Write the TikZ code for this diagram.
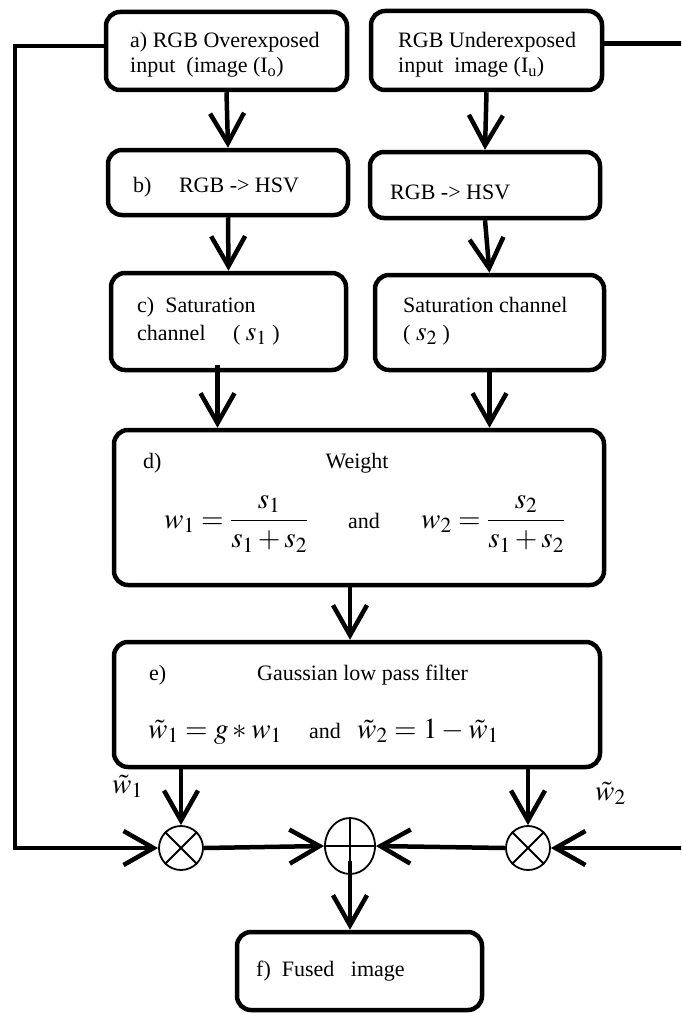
\documentclass[tikz,border=0pt]{standalone}
\usepackage{mathptmx}
\usepackage[no-math]{fontspec}
\setmainfont{Liberation Serif}
\usetikzlibrary{arrows.meta,positioning,shapes.geometric,calc}
\tikzset{
  stagebox/.style={draw, rounded corners=14pt, line width=4.5pt, fill=white, inner sep=0pt},
  stagetext/.style={anchor=base west, inner sep=0pt, align=left,
    font=\fontsize{22}{25}\selectfont},
  eqtext/.style={anchor=base west, inner sep=0pt, font=\fontsize{29}{34}\selectfont},
  flow/.style={-{Straight Barb[length=30pt,width=34pt]}, line width=4.5pt},
  mixnode/.style={circle, draw, line width=1.8pt, fill=white, minimum size=44pt, inner sep=0pt},
  sumnode/.style={ellipse, draw, line width=1.8pt, fill=white,
    minimum width=50pt, minimum height=56pt, inner sep=0pt},
}
\newcommand{\bigmath}[1]{{\fontsize{27}{25}\selectfont$#1$}}
\begin{document}
\begin{tikzpicture}[x=1pt, y=-1pt, line join=miter]
      \useasboundingbox (0,0) rectangle (681,1014);
      \clip (0,0) rectangle (681,1014);

      %% ---- two input columns ----
      \foreach \nm/\cx/\cy/\bw/\bh in {inover/226.5/51/241/78, inunder/486.5/50.5/231/79,
                                      hsvover/228/182.5/240/65, hsvunder/485/185/230/66,
                                      satover/228.5/321.5/235/97, satunder/489.5/322.5/229/95}{
        \node[stagebox, minimum width=\bw pt, minimum height=\bh pt] (\nm) at (\cx,\cy) {};}

      % multi-line texts sit on their last baseline
      \node[stagetext] (inovertxt) at (130,73)
           {a) RGB Overexposed\\input\ \ (image (I\textsubscript{o})};
      \node[stagetext] (inundertxt) at (398,73)
           {RGB Underexposed\\input\ \ image (I\textsubscript{u})};
      \node[stagetext] (hsvovertxt) at (133,192) {b)\quad\ RGB -> HSV};
      \node[stagetext] (hsvundertxt) at (390,199) {RGB -> HSV};
      \node[stagetext] (satovertxt) at (137,340)
           {c)\ \ Saturation\\[3pt]channel\quad\ ( \bigmath{s_1} )};
      \node[stagetext] (satundertxt) at (403,340)
           {Saturation channel\\[3pt]( \bigmath{s_2} )};

      \draw[flow] (inover.south) -- (hsvover.north);
      \draw[flow] (inunder.south) -- (hsvunder.north);
      \draw[flow] (hsvover.south) -- (satover.north);
      \draw[flow] (hsvunder.south) -- (satunder.north);

      %% ---- weight ----
      \node[stagebox, minimum width=490pt, minimum height=155pt] (weight) at (359,507.5) {};
      \node[stagetext] (weightlbl) at (143,468) {d)};
      \node[stagetext, anchor=base] (weighttxt) at (357,468) {Weight};
      \node[eqtext] (weighteqa) at (164,528) {$\displaystyle w_1=\frac{s_1}{s_1+s_2}$};
      \node[stagetext] (weightand) at (348,528) {and};
      \node[eqtext] (weighteqb) at (421,528) {$\displaystyle w_2=\frac{s_2}{s_1+s_2}$};

      \draw[flow] ([xshift=-11pt,yshift=7pt]satover.south) -- ([xshift=-11pt]satover.south |- weight.north);
      \draw[flow] (satunder.south) -- (satunder.south |- weight.north);

      %% ---- gaussian low pass ----
      \node[stagebox, minimum width=486pt, minimum height=125pt] (gauss) at (357,704.5) {};
      \node[stagetext] (gausslbl) at (149,680) {e)};
      \node[stagetext] (gausstxt) at (257,680) {Gaussian low pass filter};
      \node[eqtext] (gausseqa) at (148,738) {$\tilde{w}_1=g\ast w_1$};
      \node[stagetext] (gaussand) at (309,738) {and};
      \node[eqtext] (gausseqb) at (357,738) {$\tilde{w}_2=1-\tilde{w}_1$};

      \draw[flow] ([xshift=-9pt]weight.south) -- ([xshift=-9pt]weight.south |- gauss.north);

      %% ---- mixing ----
      \node[mixnode] (mulover) at (181,848) {};
      \node[mixnode] (mulunder) at (528,848) {};
      \node[sumnode] (fuse) at (350,846) {};
      \foreach \mx in {mulover,mulunder}{
        \draw[line width=1.8pt] (\mx.north west) -- (\mx.south east)
                                (\mx.north east) -- (\mx.south west);}
      \draw[line width=1.8pt] (fuse.north) -- (fuse.south) (fuse.west) -- (fuse.east);

      \node[eqtext] (wlow) at (112,793) {$\tilde{w}_1$};
      \node[eqtext] (whigh) at (595,800) {$\tilde{w}_2$};

      \draw[flow] (gauss.south -| mulover.north) -- (mulover.north);
      \draw[flow] (gauss.south -| mulunder.north) -- (mulunder.north);

      \coordinate (leftrail) at (15,848);
      \coordinate (rightrail) at (692,848);
      \draw[flow] ([yshift=5pt]inover.west) -| (leftrail) -- (mulover.west);
      \draw[flow] ([yshift=7pt]inunder.east) -| (rightrail) -- (mulunder.east);
      \draw[flow] (mulover.east) -- (fuse.west);
      \draw[flow] (mulunder.west) -- (fuse.east);

      %% ---- output ----
      \node[stagebox, minimum width=245pt, minimum height=78pt] (fused) at (359.5,971) {};
      \node[stagetext] (fusedtxt) at (256,976) {f)\ \ Fused\ \ \ image};
      \draw[flow] ([yshift=-15pt]fuse.center) -- (fuse.center |- fused.north);
\end{tikzpicture}
\end{document}
